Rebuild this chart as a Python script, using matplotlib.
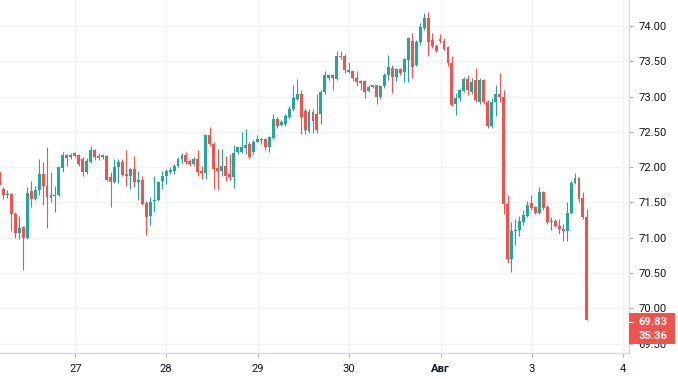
import numpy as np
import matplotlib.pyplot as plt
from matplotlib.patches import Rectangle
from matplotlib.transforms import IdentityTransform

###### INPUT DATA ##########
opens = [71.93, 71.69, 71.60, 71.62, 71.34, 71.07, 71.15, 71.00, 71.66, 71.55,
         71.67, 71.90, 71.73, 71.57, 71.60, 71.60, 71.99, 72.17, 72.14, 72.20,
         72.17, 72.12, 71.93, 72.08, 72.25, 72.16, 72.14, 72.16, 71.86, 71.79,
         72.00, 72.08, 71.90, 71.87, 71.98, 71.79, 71.82, 71.49, 71.31, 71.52,
         71.53, 71.80, 71.88, 71.93, 71.94, 72.02, 72.11, 72.17, 72.09, 72.04,
         72.11, 71.95, 71.92, 72.46, 72.33, 71.99, 71.95, 72.02, 71.90, 71.86,
         72.21, 72.22, 72.27, 72.33, 72.21, 72.36, 72.40, 72.40, 72.29, 72.42,
         72.68, 72.60, 72.61, 72.71, 72.82, 72.97, 73.04, 72.80, 72.51, 72.78,
         72.75, 72.75, 73.06, 73.27, 73.31, 73.25, 73.58, 73.58, 73.35, 73.36,
         73.27, 73.22, 73.22, 73.08, 73.14, 73.16, 72.99, 73.15, 73.30, 73.41,
         73.28, 73.39, 73.35, 73.52, 73.79, 73.45, 73.78, 73.97, 74.12, 73.80,
         73.72, 73.81, 73.79, 73.70, 73.47, 72.89, 72.98, 73.08, 73.25, 73.07,
         73.24, 72.92, 73.23, 72.93, 72.58, 72.92, 73.04, 73.00, 71.48, 70.70,
         71.10, 71.11, 71.23, 71.31, 71.49, 71.43, 71.35, 71.65, 71.43, 71.23,
         71.24, 71.17, 71.12, 71.09, 71.35, 71.78, 71.84, 71.56, 71.29]
highs = [71.97, 71.72, 71.67, 71.64, 71.36, 71.31, 71.17, 71.72, 71.81, 71.74,
         72.12, 72.07, 72.28, 71.93, 71.74, 72.00, 72.22, 72.18, 72.20, 72.21,
         72.18, 72.15, 72.13, 72.30, 72.26, 72.20, 72.18, 72.17, 71.93, 72.12,
         72.12, 72.12, 72.25, 71.99, 72.16, 71.95, 71.88, 71.52, 71.58, 71.88,
         71.80, 71.95, 71.98, 72.00, 72.05, 72.14, 72.20, 72.21, 72.11, 72.14,
         72.24, 72.02, 72.47, 72.57, 72.35, 72.26, 72.26, 72.16, 72.19, 72.31,
         72.29, 72.50, 72.54, 72.35, 72.38, 72.46, 72.41, 72.41, 72.44, 72.76,
         72.71, 72.67, 72.76, 72.87, 73.16, 73.25, 73.09, 72.82, 72.82, 72.82,
         73.04, 73.09, 73.36, 73.32, 73.32, 73.64, 73.64, 73.60, 73.47, 73.38,
         73.36, 73.23, 73.23, 73.17, 73.17, 73.17, 73.16, 73.34, 73.59, 73.45,
         73.41, 73.41, 73.55, 73.85, 73.90, 73.80, 74.04, 74.18, 74.20, 73.90,
         73.74, 73.88, 73.83, 73.72, 73.57, 73.05, 73.11, 73.28, 73.31, 73.26,
         73.40, 73.26, 73.25, 72.95, 72.98, 73.17, 73.33, 73.09, 71.61, 71.23,
         71.27, 71.31, 71.40, 71.52, 71.61, 71.45, 71.72, 71.66, 71.46, 71.29,
         71.27, 71.27, 71.20, 71.50, 71.81, 71.92, 71.86, 71.65, 71.41]
lows = [71.70, 71.55, 71.56, 71.10, 71.00, 70.98, 70.54, 70.98, 71.43, 71.53,
        71.60, 71.46, 71.14, 71.50, 71.36, 71.59, 71.93, 72.02, 72.11, 72.15,
        72.02, 71.88, 71.90, 72.06, 72.10, 72.10, 72.11, 71.80, 71.43, 71.77,
        71.77, 71.87, 71.74, 71.69, 71.72, 71.53, 71.46, 71.04, 71.18, 71.36,
        71.52, 71.69, 71.76, 71.90, 71.91, 72.00, 72.06, 72.05, 72.01, 72.01,
        71.88, 71.83, 71.83, 72.30, 71.69, 71.68, 71.88, 71.81, 71.82, 71.70,
        72.19, 72.20, 72.19, 72.12, 72.19, 72.35, 72.33, 72.24, 72.22, 72.40,
        72.56, 72.58, 72.59, 72.69, 72.80, 72.95, 72.47, 72.47, 72.48, 72.49,
        72.48, 72.61, 73.04, 73.24, 73.09, 73.23, 73.53, 73.34, 73.33, 73.22,
        73.15, 73.09, 72.98, 73.06, 73.12, 72.89, 72.96, 73.12, 73.24, 73.05,
        73.22, 73.30, 73.21, 73.21, 73.27, 73.43, 73.73, 73.95, 73.57, 73.69,
        73.63, 73.76, 73.66, 73.43, 72.86, 72.74, 72.94, 73.06, 73.02, 73.04,
        72.93, 72.89, 72.90, 72.55, 72.55, 72.73, 72.92, 71.34, 70.64, 70.52,
        70.90, 71.03, 71.18, 71.30, 71.40, 71.33, 71.33, 71.40, 71.19, 71.11,
        71.15, 71.05, 70.95, 70.96, 71.33, 71.76, 71.51, 71.27, 69.83]
closes = [71.75, 71.60, 71.62, 71.34, 71.07, 71.14, 71.00, 71.64, 71.55, 71.68,
          71.90, 71.73, 71.58, 71.61, 71.61, 72.00, 72.17, 72.13, 72.17, 72.16,
          72.05, 71.93, 72.09, 72.24, 72.14, 72.13, 72.17, 71.82, 71.79, 72.00,
          72.08, 71.89, 71.87, 71.98, 71.79, 71.82, 71.48, 71.30, 71.51, 71.54,
          71.79, 71.88, 71.95, 71.96, 72.02, 72.12, 72.17, 72.08, 72.05, 72.12,
          71.93, 71.92, 72.46, 72.33, 71.98, 71.95, 72.01, 71.88, 71.86, 72.20,
          72.28, 72.29, 72.31, 72.14, 72.36, 72.40, 72.39, 72.29, 72.43, 72.68,
          72.59, 72.64, 72.73, 72.82, 72.98, 73.04, 72.71, 72.53, 72.78, 72.65,
          72.53, 73.07, 73.30, 73.31, 73.27, 73.58, 73.56, 73.38, 73.38, 73.26,
          73.21, 73.19, 73.06, 73.14, 73.16, 72.99, 73.15, 73.30, 73.42, 73.28,
          73.39, 73.33, 73.53, 73.83, 73.42, 73.78, 73.98, 74.12, 73.78, 73.71,
          73.64, 73.79, 73.68, 73.47, 72.88, 72.98, 73.09, 73.25, 73.09, 73.21,
          72.95, 73.24, 72.92, 72.58, 72.93, 73.04, 73.00, 71.48, 70.70, 71.10,
          71.11, 71.24, 71.32, 71.47, 71.42, 71.35, 71.65, 71.42, 71.22, 71.24,
          71.17, 71.12, 71.09, 71.35, 71.78, 71.84, 71.55, 71.29, 69.83]

day_labels = ['27', '28', '29', '30', 'Авг', '3', '4']
price_ticks = [69.5, 70.0, 70.5, 71.0, 71.5, 72.0, 72.5, 73.0, 73.5, 74.0]
last_price = 69.83
countdown = '35:36'
#########################

UP = '#26a69a'
DOWN = '#ef5350'
GRID = '#f0f2f5'
TEXT = '#131722'

plt.rcParams['font.family'] = ['Roboto', 'DejaVu Sans']

o = np.array(opens)
h = np.array(highs)
l = np.array(lows)
c = np.array(closes)
x = np.arange(len(o))
colors = np.where(c >= o, UP, DOWN)

# candle index where each day starts (about 23 candles per day)
day_ticks = [19.15, 42.05, 65.2, 88.1, 111.2, 134.1, 157.0]

W, H = 678, 379
fig = plt.figure(figsize=(W / 100, H / 100), dpi=100)
ax = fig.add_axes([0, 26 / H, 629 / W, 353 / H])

# wicks and bodies
ax.vlines(x, l, h, colors=colors, linewidth=0.8, zorder=2)
min_h = 0.014
body = np.abs(c - o)
bottom = np.minimum(o, c)
bottom = np.where(body < min_h, bottom - (min_h - body) / 2, bottom)
body = np.maximum(body, min_h)
ax.bar(x, body, bottom=bottom, width=0.74, color=colors, linewidth=0, zorder=3)

ax.set_xlim(0.16, 158.6)
ax.set_ylim(69.368, 74.368)

ax.set_yticks(price_ticks)
ax.set_yticklabels(['%.2f' % p for p in price_ticks])
ax.yaxis.tick_right()
ax.set_xticks(day_ticks)
ax.set_xticklabels(day_labels)
ax.get_xticklabels()[4].set_fontweight('bold')

ax.grid(True, color=GRID, linewidth=1, zorder=0)
ax.set_axisbelow(True)
for s in ['top', 'left']:
    ax.spines[s].set_visible(False)
for s in ['right', 'bottom']:
    ax.spines[s].set_color('#d6d9e0')
    ax.spines[s].set_linewidth(1)

ax.tick_params(axis='y', length=3, width=0.8, color='#b2b5be', pad=4,
               labelsize=8.1, labelcolor=TEXT)
ax.tick_params(axis='x', length=3, width=0.8, color='#b2b5be', pad=5,
               labelsize=8.1, labelcolor=TEXT)

# last price label on the price scale
fig.canvas.draw()
yp = ax.transData.transform((0, last_price))[1]
x0 = ax.transAxes.transform((1, 0))[0]
box = Rectangle((x0, yp - 24), W - 3 - x0, 31, transform=IdentityTransform(),
                facecolor=DOWN, edgecolor='none', zorder=5)
fig.add_artist(box)
fig.add_artist(plt.Line2D([x0, x0 + 4], [yp - 2, yp - 2], transform=IdentityTransform(),
                          color='white', linewidth=0.8, zorder=6))
fig.text((x0 + 24) / W, (yp - 2) / H, '%.2f' % last_price, color='white',
         fontsize=8.1, fontweight='bold', ha='center', va='center', zorder=6)
fig.text((x0 + 24) / W, (yp - 16) / H, countdown, color='white',
         fontsize=8.1, fontweight='bold', ha='center', va='center', zorder=6)

fig.savefig('out.png', dpi=100, facecolor='white')
